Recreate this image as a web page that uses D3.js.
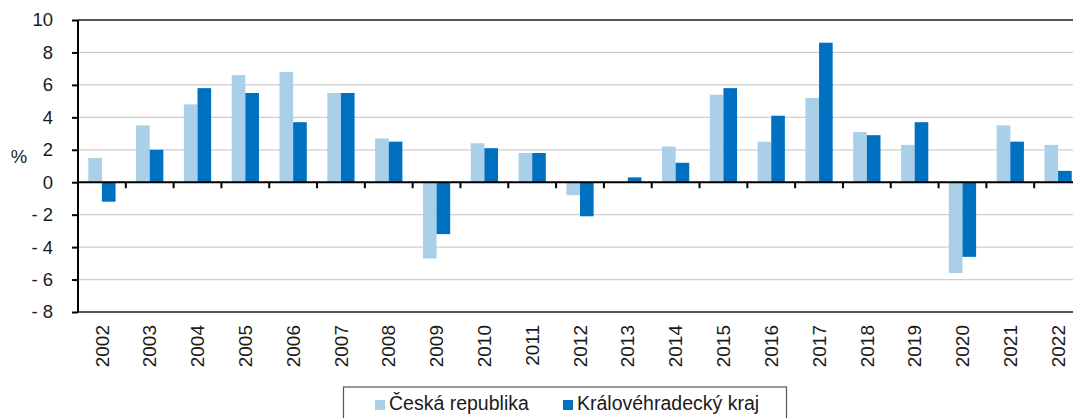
<!DOCTYPE html>
<html>
<head>
<meta charset="utf-8">
<script src="https://cdn.jsdelivr.net/npm/d3@7"></script>
<style>
  body { margin: 0; background: #fff; }
  text { font-family: "Liberation Sans", Arial, sans-serif; fill: #1a1a1a; }
</style>
</head>
<body>
<div id="chart"></div>
<script>
// data (annual change, %)
var years = ["2002","2003","2004","2005","2006","2007","2008","2009","2010","2011","2012",
             "2013","2014","2015","2016","2017","2018","2019","2020","2021","2022"];
var seriesNames = ["Česká republika", "Královéhradecký kraj"];
var czValues = [1.5, 3.5, 4.8, 6.6, 6.8, 5.5, 2.7, -4.7, 2.4, 1.8, -0.8,
                0.0, 2.2, 5.4, 2.5, 5.2, 3.1, 2.3, -5.6, 3.5, 2.3];
var hkValues = [-1.2, 2.0, 5.8, 5.5, 3.7, 5.5, 2.5, -3.2, 2.1, 1.8, -2.1,
                0.3, 1.2, 5.8, 4.1, 8.6, 2.9, 3.7, -4.6, 2.5, 0.7];
var yTicks = [-8, -6, -4, -2, 0, 2, 4, 6, 8, 10];
var colors = ["#a9cfe9", "#0070c0"];

var width = 1073, height = 418;
var plotLeft = 78, plotRight = 1082, plotTop = 20, plotBottom = 312;

var rows = years.map(function(y, i) {
    return { year: y, values: [czValues[i], hkValues[i]] };
});

var svg = d3.select("#chart").append("svg")
    .attr("width", width)
    .attr("height", height);

var y = d3.scaleLinear().domain([-8, 10]).range([plotBottom, plotTop]);

var xCat = d3.scaleBand().domain(years).range([plotLeft, plotRight]);
var x0 = d3.scaleBand().domain(years).range([plotLeft, plotRight])
    .paddingInner(0.43).paddingOuter(0.215);
var x1 = d3.scaleBand().domain([0, 1]).range([0, x0.bandwidth()]);

// gridlines
svg.append("g")
    .selectAll("line")
    .data(yTicks.filter(function(d) { return d !== 0 && d !== 10 && d !== -8; }))
    .enter().append("line")
    .attr("x1", plotLeft).attr("x2", plotRight)
    .attr("y1", function(d) { return y(d); })
    .attr("y2", function(d) { return y(d); })
    .attr("stroke", "#cfcfcf")
    .attr("stroke-width", 1.3);

// top and bottom frame lines
svg.append("line")
    .attr("x1", plotLeft).attr("x2", plotRight)
    .attr("y1", y(10)).attr("y2", y(10))
    .attr("stroke", "#555").attr("stroke-width", 2);
svg.append("line")
    .attr("x1", plotLeft).attr("x2", plotRight)
    .attr("y1", y(-8)).attr("y2", y(-8))
    .attr("stroke", "#555").attr("stroke-width", 2);

// bars
var groups = svg.append("g")
    .selectAll("g")
    .data(rows)
    .enter().append("g")
    .attr("transform", function(d) { return "translate(" + x0(d.year) + ",0)"; });

groups.selectAll("rect")
    .data(function(d) { return d.values.map(function(v, k) { return { k: k, v: v }; }); })
    .enter().append("rect")
    .attr("x", function(d) { return x1(d.k); })
    .attr("width", x1.bandwidth())
    .attr("y", function(d) { return y(Math.max(0, d.v)); })
    .attr("height", function(d) { return Math.abs(y(d.v) - y(0)); })
    .attr("fill", function(d) { return colors[d.k]; });

// zero line with category ticks
svg.append("line")
    .attr("x1", plotLeft).attr("x2", plotRight)
    .attr("y1", y(0)).attr("y2", y(0))
    .attr("stroke", "#000").attr("stroke-width", 2);

svg.append("g")
    .selectAll("line")
    .data(years.slice(1))
    .enter().append("line")
    .attr("x1", function(d) { return xCat(d); })
    .attr("x2", function(d) { return xCat(d); })
    .attr("y1", y(0)).attr("y2", y(0) + 6)
    .attr("stroke", "#000").attr("stroke-width", 2);

// y axis
var yAxis = d3.axisLeft(y)
    .tickValues(yTicks)
    .tickSize(6)
    .tickPadding(19)
    .tickFormat(function(d) { return d < 0 ? "- " + Math.abs(d) : d; });

var ya = svg.append("g")
    .attr("transform", "translate(" + plotLeft + ",0)")
    .call(yAxis);
ya.select(".domain").remove();
ya.selectAll(".tick line").attr("stroke", "#000").attr("stroke-width", 2);
ya.selectAll(".tick text")
    .attr("font-size", 18.5)
    .attr("font-family", "Liberation Sans, Arial, sans-serif")
    .style("fill", "#1a1a1a");
svg.append("line")
    .attr("x1", plotLeft).attr("x2", plotLeft)
    .attr("y1", plotTop).attr("y2", plotBottom)
    .attr("stroke", "#000").attr("stroke-width", 2);

svg.append("text")
    .attr("x", 19)
    .attr("y", 157)
    .attr("dy", "0.35em")
    .attr("text-anchor", "middle")
    .attr("font-size", 18.5)
    .text("%");

// x labels
svg.append("g")
    .selectAll("text")
    .data(years)
    .enter().append("text")
    .attr("transform", function(d) {
        return "translate(" + (xCat(d) + xCat.bandwidth() / 2) + ",325) rotate(-90)";
    })
    .attr("dy", "0.35em")
    .attr("text-anchor", "end")
    .attr("font-size", 19)
    .text(function(d) { return d; });

// legend
var legend = svg.append("g");
legend.append("rect")
    .attr("x", 343.5).attr("y", 387)
    .attr("width", 443).attr("height", 40)
    .attr("fill", "none")
    .attr("stroke", "#555")
    .attr("stroke-width", 1.2);

var legendX = [375, 563];
var items = legend.selectAll("g.item")
    .data(seriesNames)
    .enter().append("g")
    .attr("class", "item")
    .attr("transform", function(d, i) { return "translate(" + legendX[i] + ",0)"; });
items.append("rect")
    .attr("x", 0).attr("y", 400)
    .attr("width", 10).attr("height", 10)
    .attr("fill", function(d, i) { return colors[i]; });
items.append("text")
    .attr("x", 14).attr("y", 410)
    .attr("font-size", 19.5)
    .text(function(d) { return d; });
</script>
</body>
</html>
